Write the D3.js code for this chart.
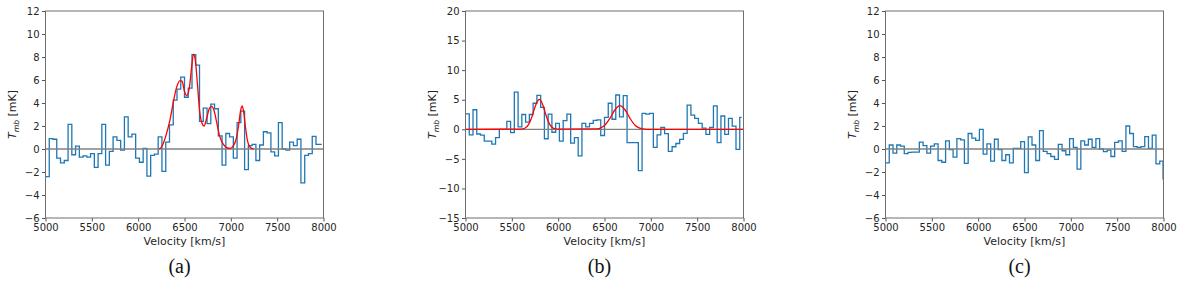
<!DOCTYPE html>
<html>
<head>
<meta charset="utf-8">
<script src="https://cdn.jsdelivr.net/npm/d3@7"></script>
<style>
  body { margin: 0; background: #fff; }
  svg { display: block; }
  .tick text { font-family: "DejaVu Sans", sans-serif; font-size: 10px; fill: #262626; }
  .lbl { font-family: "DejaVu Sans", sans-serif; font-size: 11px; fill: #262626; }
  .cap { font-family: "Liberation Serif", "Times New Roman", serif; font-size: 20px; fill: #111; }
</style>
</head>
<body>
<div id="chart"></div>
<script>
// channel centres [km/s], shared by the three spectra
const velocity = [4980, 5020, 5061, 5101, 5142, 5182, 5223, 5264, 5304, 5345,
  5385, 5426, 5466, 5507, 5547, 5588, 5628, 5669, 5709, 5750,
  5791, 5831, 5872, 5912, 5953, 5993, 6034, 6074, 6115, 6155,
  6196, 6236, 6277, 6318, 6358, 6399, 6439, 6480, 6520, 6561,
  6601, 6642, 6682, 6723, 6764, 6804, 6845, 6885, 6926, 6966,
  7007, 7047, 7088, 7128, 7169, 7209, 7250, 7291, 7331, 7372,
  7412, 7453, 7493, 7534, 7574, 7615, 7655, 7696, 7736, 7777,
  7818, 7858, 7899, 7939, 7980, 8010];

// T_mb [mK] per channel
const tmbA = [-2.4, -2.4, 0.9, 0.85, -0.8, -1.2, -1.0, 2.15, -0.5, 0.25, -0.7,
  -0.6, -0.7, -0.4, -1.6, -0.4, 2.15, -1.4, -0.2, 1.05, 0.75,
  -0.1, 2.8, 1.05, 1.3, -0.8, -1.15, 0.05, -2.35, -0.55, -0.45,
  1.05, -1.95, 0.6, 2.1, 4.25, 5.2, 6.25, 4.5, 5.3, 8.2,
  7.3, 2.4, 3.55, 2.2, 3.9, 3.5, 1.15, -1.4, 1.35, 1.05,
  -0.8, 2.3, 3.3, -1.8, 0.3, 0.4, -1.0, 0.35, 1.5, 1.4,
  -0.25, -0.6, 2.3, 0.0, -0.1, 0.6, 0.3, 0.85, -2.95, -0.55,
  -0.4, 1.1, 0.4, 0.4];

const tmbB = [2.6, 2.6, -0.95, 3.3, -0.8, -1.0, -2.0, -2.0, -2.5, -1.4,
  0.0, 0.0, 1.35, -0.55, 6.3, 0.4, 2.5, 1.2, 2.5, 4.4,
  5.75, 3.7, -1.6, 2.55, -0.5, 1.0, -2.0, 1.45, 2.55, -2.35,
  -1.4, -4.5, 1.0, 0.4, 1.0, 1.5, 1.6, -1.05, 2.0, 4.4,
  1.7, 5.8, 2.1, 5.7, -2.25, -2.25, -2.25, -7.0, 2.7, 2.55,
  2.7, -3.05, -0.95, 0.3, -0.75, -3.75, -2.95, -2.4, -1.7, -0.7,
  4.1, 2.4, 1.85, 1.0, 0.2, -0.85, 0.3, 3.95, -2.25, 2.25,
  -0.85, 1.85, 0.55, -3.4, 2.0];

const tmbC = [-1.2, -1.2, 0.35, -0.35, 0.35, 0.25, -0.4, -0.3, -0.28, -0.28,
  0.6, 0.3, -0.35, 0.25, 0.45, -1.0, -1.15, 0.7, -0.05, -0.7,
  0.9, 0.8, -1.25, 1.35, 0.95, 0.75, 1.7, -0.45, 0.45, -1.05,
  0.85, -0.05, -1.0, -0.5, -1.2, 0.05, 0.05, 0.65, -2.05, 1.05,
  0.35, -1.0, 1.6, -0.2, -0.4, -0.65, -0.9, 0.4, -0.15, -0.5,
  0.9, 0.15, -1.75, 0.7, 0.35, 0.85, 0.15, 0.9, 0.0, -0.22,
  -0.1, -0.65, 0.58, 0.7, -0.2, 2.0, 1.35, 0.2, 0.15, 0.2,
  1.07, 0.05, 1.2, -1.3, -1.05, -2.6];

// gaussian fits
const fitVelA = [6225, 6250, 6272, 6308, 6344, 6380, 6416, 6452, 6473, 6500,
  6522, 6550, 6578, 6597, 6617, 6640, 6662, 6686, 6711, 6740,
  6770, 6794, 6820, 6848, 6880, 6920, 6956, 6992, 7028, 7057,
  7082, 7107, 7122, 7137, 7158, 7180, 7208, 7245];
const fitA = [0, 0.15, 0.5, 1.4, 2.55, 4.1, 5.4, 5.95, 5.9, 5.0,
  4.65, 5.2, 7.2, 8.25, 7.7, 5.6, 3.4, 2.3, 2.0, 2.7,
  3.55, 3.7, 3.3, 2.3, 1.1, 0.4, 0.12, 0.05, 0.3, 0.85,
  1.95, 3.4, 3.75, 3.3, 1.9, 0.7, 0.15, 0.0];

const fitVelB = [5000, 5600, 5640, 5680, 5715, 5750, 5775, 5796, 5820, 5845,
  5876, 5910, 5945, 5990, 6420, 6460, 6505, 6560, 6613, 6667,
  6721, 6775, 6830, 6880, 6930, 6990, 8000];
const fitB = [0, 0.02, 0.17, 0.78, 2.05, 3.76, 4.7, 5.05, 4.65, 3.6,
  2.05, 0.8, 0.2, 0.02, 0.07, 0.24, 0.71, 1.88, 3.3, 4.0,
  3.3, 1.86, 0.69, 0.2, 0.04, 0, 0];

const velocityTicks = [5000, 5500, 6000, 6500, 7000, 7500, 8000];
const yTicksA = [-6, -4, -2, 0, 2, 4, 6, 8, 10, 12];
const yTicksB = [-15, -10, -5, 0, 5, 10, 15, 20];
const panelLabels = ["(a)", "(b)", "(c)"];

const width = 1200, height = 283;
const panelStep = 420;
const plotLeft = 45.5, plotRight = 323.5, plotTop = 11, plotBottom = 218;

const svg = d3.select("#chart").append("svg")
  .attr("width", width)
  .attr("height", height);

const panels = [
  {values: tmbA, fitV: fitVelA, fit: fitA, yDomain: [-6, 12], yTicks: yTicksA},
  {values: tmbB, fitV: fitVelB, fit: fitB, yDomain: [-15, 20], yTicks: yTicksB},
  {values: tmbC, fitV: null, fit: null, yDomain: [-6, 12], yTicks: yTicksA}
];

panels.forEach((p, i) => {
  let g = svg.append("g").attr("transform", "translate(" + (i * panelStep) + ",0)");

  let x = d3.scaleLinear().domain([5000, 8000]).range([plotLeft, plotRight]);
  let y = d3.scaleLinear().domain(p.yDomain).range([plotBottom, plotTop]);

  let clipId = "clip" + i;
  g.append("clipPath").attr("id", clipId)
    .append("rect")
    .attr("x", plotLeft).attr("y", plotTop)
    .attr("width", plotRight - plotLeft).attr("height", plotBottom - plotTop);

  let plot = g.append("g").attr("clip-path", "url(#" + clipId + ")");

  // spectrum as steps (transitions half way between channels)
  let stepLine = d3.line()
    .x((d, j) => x(velocity[j]))
    .y(d => y(d))
    .curve(d3.curveStep);

  plot.append("path")
    .datum(p.values)
    .attr("fill", "none")
    .attr("stroke", "#1f77b4")
    .attr("stroke-width", 1.3)
    .attr("d", stepLine);

  // zero line
  plot.append("line")
    .attr("x1", plotLeft).attr("x2", plotRight)
    .attr("y1", y(0)).attr("y2", y(0))
    .attr("stroke", "#808080")
    .attr("stroke-width", 1.3);

  if (p.fit) {
    let fitLine = d3.line()
      .x((d, j) => x(p.fitV[j]))
      .y(d => y(d))
      .curve(d3.curveMonotoneX);
    plot.append("path")
      .datum(p.fit)
      .attr("fill", "none")
      .attr("stroke", "#ff0000")
      .attr("stroke-width", 1.3)
      .attr("d", fitLine);
  }

  // axes
  let xAxis = d3.axisBottom(x)
    .tickValues(velocityTicks)
    .tickSize(3.5)
    .tickPadding(2.5)
    .tickFormat(d3.format("d"));
  let yAxis = d3.axisLeft(y)
    .tickValues(p.yTicks)
    .tickSize(3.5)
    .tickPadding(2.5)
    .tickFormat(d3.format("d"));

  let gx = g.append("g").attr("transform", "translate(0," + plotBottom + ")").call(xAxis);
  let gy = g.append("g").attr("transform", "translate(" + plotLeft + ",0)").call(yAxis);
  [gx, gy].forEach(a => {
    a.select(".domain").remove();
    a.selectAll(".tick line").attr("stroke", "#555");
  });

  g.append("rect")
    .attr("x", plotLeft).attr("y", plotTop)
    .attr("width", plotRight - plotLeft).attr("height", plotBottom - plotTop)
    .attr("fill", "none")
    .attr("stroke", "#6e6e6e")
    .attr("stroke-width", 1);

  g.append("text")
    .attr("class", "lbl")
    .attr("x", (plotLeft + plotRight) / 2)
    .attr("y", 245)
    .attr("text-anchor", "middle")
    .text("Velocity [km/s]");

  let yl = g.append("text")
    .attr("class", "lbl")
    .attr("text-anchor", "middle")
    .attr("transform", "translate(16," + ((plotTop + plotBottom) / 2) + ") rotate(-90)");
  yl.append("tspan").attr("font-style", "italic").text("T");
  yl.append("tspan").attr("font-style", "italic").attr("font-size", "7.7px").attr("dy", 2.5).text("mb");
  yl.append("tspan").attr("dy", -2.5).text(" [mK]");

  g.append("text")
    .attr("class", "cap")
    .attr("x", (plotLeft + plotRight) / 2 - 5)
    .attr("y", 273)
    .attr("text-anchor", "middle")
    .text(panelLabels[i]);
});
</script>
</body>
</html>
